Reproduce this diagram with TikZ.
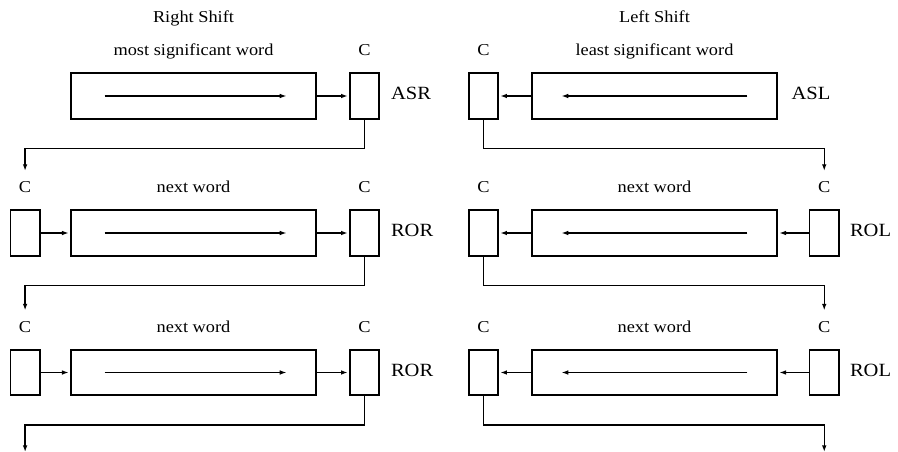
\documentclass[tikz,border=0pt]{standalone}
\usepackage{fontspec}
\setmainfont{Liberation Serif}
\newfontfamily\widefont[FakeStretch=1.1]{Liberation Serif}
\usetikzlibrary{arrows.meta, positioning}

\begin{document}
\begin{tikzpicture}[x=0.75pt, y=0.75pt,
                    every node/.style={font=\widefont\fontsize{12.5}{14}\selectfont},
                    word/.style={draw, rectangle, line width=1.3pt, minimum width=184pt, minimum height=34pt, inner sep=0pt},
                    carry/.style={draw, rectangle, line width=1.3pt, minimum width=22pt, minimum height=34pt, inner sep=0pt},
                    tag/.style={inner sep=0pt, text height=8pt, text depth=2.5pt},
                    op/.style={tag, font=\widefont\fontsize{14}{16}\selectfont},
                    link/.style={line width=1pt, -{Latex[length=5pt,width=3.5pt]}},
                    flow/.style={line width=0.8pt, -{Latex[length=5pt,width=3.5pt]}}]

\useasboundingbox (0,0) rectangle (898,-452);

% Right shift: words and carries
\node (wR1) [word] at (193.5,-96) {};
\node (oR1) [carry, right=24pt of wR1] {};
\node (wR2) [word] at (193.5,-233) {};
\node (oR2) [carry, right=24pt of wR2] {};
\node (iR2) [carry, left=22pt of wR2] {};
\node (wR3) [word] at (193.5,-372.5) {};
\node (oR3) [carry, right=24pt of wR3] {};
\node (iR3) [carry, left=22pt of wR3] {};

% Right shift: labels
\node (lwR1) [tag, above=10pt of wR1] {most significant word};
\node (titleR) [tag, above=13.5pt of lwR1] {Right Shift};
\node (loR1) [tag, above=10pt of oR1] {C};
\node (opR1) [op, right=8pt of oR1] {ASR};
\node (lwR2) [tag, above=10pt of wR2] {next word};
\node (loR2) [tag, above=10pt of oR2] {C};
\node (liR2) [tag, above=10pt of iR2] {C};
\node (opR2) [op, right=8pt of oR2] {ROR};
\node (lwR3) [tag, above=10pt of wR3] {next word};
\node (loR3) [tag, above=10pt of oR3] {C};
\node (liR3) [tag, above=10pt of iR3] {C};
\node (opR3) [op, right=8pt of oR3] {ROR};
\coordinate[below=42pt of iR3] (endR);

% Left shift: words and carries
\node (wL1) [word] at (654.5,-96) {};
\node (oL1) [carry, left=24pt of wL1] {};
\node (wL2) [word] at (654.5,-233) {};
\node (oL2) [carry, left=24pt of wL2] {};
\node (iL2) [carry, right=23pt of wL2] {};
\node (wL3) [word] at (654.5,-372.5) {};
\node (oL3) [carry, left=24pt of wL3] {};
\node (iL3) [carry, right=23pt of wL3] {};

% Left shift: labels
\node (lwL1) [tag, above=10pt of wL1] {least significant word};
\node (titleL) [tag, above=13.5pt of lwL1] {Left Shift};
\node (loL1) [tag, above=10pt of oL1] {C};
\node (opL1) [op, right=10pt of wL1] {ASL};
\node (lwL2) [tag, above=10pt of wL2] {next word};
\node (loL2) [tag, above=10pt of oL2] {C};
\node (liL2) [tag, above=10pt of iL2] {C};
\node (opL2) [op, right=7.5pt of iL2] {ROL};
\node (lwL3) [tag, above=10pt of wL3] {next word};
\node (loL3) [tag, above=10pt of oL3] {C};
\node (liL3) [tag, above=10pt of iL3] {C};
\node (opL3) [op, right=7.5pt of iL3] {ROL};
\coordinate[below=42pt of iL3] (endL);

% Shift direction inside the words
\draw[flow] ([xshift=26pt]wR1.west) -- ([xshift=-23pt]wR1.east);
\draw[flow] ([xshift=26pt]wR2.west) -- ([xshift=-23pt]wR2.east);
\draw[flow] ([xshift=26pt]wR3.west) -- ([xshift=-23pt]wR3.east);
\draw[flow] ([xshift=-23pt]wL1.east) -- ([xshift=23pt]wL1.west);
\draw[flow] ([xshift=-23pt]wL2.east) -- ([xshift=23pt]wL2.west);
\draw[flow] ([xshift=-23pt]wL3.east) -- ([xshift=23pt]wL3.west);

% Bits in and out of each word
\draw[link, shorten >=1pt] (wR1) -- (oR1);
\draw[link, shorten >=1pt] (iR2) -- (wR2);
\draw[link, shorten >=1pt] (wR2) -- (oR2);
\draw[link, shorten >=1pt] (iR3) -- (wR3);
\draw[link, shorten >=1pt] (wR3) -- (oR3);
\draw[link, shorten >=1pt] (wL1) -- (oL1);
\draw[link, shorten >=1pt] (iL2) -- (wL2);
\draw[link, shorten >=1pt] (wL2) -- (oL2);
\draw[link, shorten >=1pt] (iL3) -- (wL3);
\draw[link, shorten >=1pt] (wL3) -- (oL3);

% Carry passed on to the next word
\draw[link, shorten >=8pt] (oR1.south) -- ++(0,-29) -| (liR2.north);
\draw[link, shorten >=8pt] (oR2.south) -- ++(0,-29) -| (liR3.north);
\draw[link] (oR3.south) -- ++(0,-29) -| (endR);
\draw[link, shorten >=8pt] (oL1.south) -- ++(0,-29) -| (liL2.north);
\draw[link, shorten >=8pt] (oL2.south) -- ++(0,-29) -| (liL3.north);
\draw[link] (oL3.south) -- ++(0,-29) -| (endL);

\end{tikzpicture}
\end{document}
